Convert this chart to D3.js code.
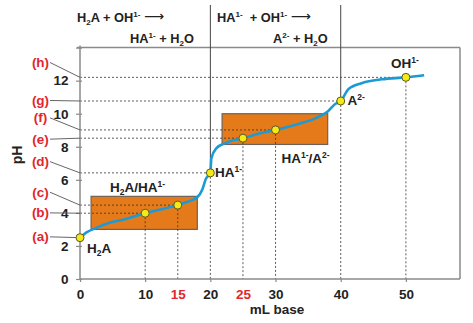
<!DOCTYPE html>
<html>
<head>
<meta charset="utf-8">
<script src="https://cdn.jsdelivr.net/npm/d3@7"></script>
<style>
  html, body { margin: 0; padding: 0; background: #fff; }
  text { font-family: "Liberation Sans", Arial, sans-serif; font-weight: bold; white-space: pre; }
</style>
</head>
<body>
<svg id="chart" width="473" height="323"></svg>
<script>
// ---------- data ----------
const curveMl = [0, 1, 2.3, 4.3, 6.9, 10, 12, 15, 16.5, 18, 18.8, 19.3, 20, 20.15, 20.9, 22.4, 25, 27.5, 30, 33.6, 36.1, 37.9, 39.2, 40, 41.2, 43.3, 46.3, 50, 52.8];
const curvePH = [2.5, 2.82, 3.06, 3.37, 3.62, 3.98, 4.17, 4.47, 4.67, 4.95, 5.45, 6.05, 6.42, 7.3, 7.9, 8.24, 8.52, 8.8, 9.02, 9.4, 9.72, 10.1, 10.6, 10.77, 11.5, 11.86, 12.08, 12.2, 12.33];

const pointMl = [0, 10, 15, 20, 25, 30, 40, 50];
const pointPH = [2.5, 3.98, 4.47, 6.42, 8.52, 9.02, 10.77, 12.2];
const pointLetters = ["(a)", "(b)", "(c)", "(d)", "(e)", "(f)", "(g)", "(h)"];
const letterLabelPH = [2.55, 4.0, 5.25, 7.1, 8.46, 9.75, 10.8, 13.1];

const xTickLabels = [0, 10, 15, 20, 25, 30, 40, 50];
const xTickRed = [15, 25];
const xTickMarks = [0, 10, 20, 30, 40, 50];
const yTickValues = [0, 2, 4, 6, 8, 10, 12, 14];
const yTickLabels = [0, 2, 4, 6, 8, 10, 12];

const bufferBoxMl = [[1.7, 18], [21.8, 38]];
const bufferBoxPH = [[3.0, 5.0], [8.14, 10.0]];

const equivalenceMl = [20, 40];
const equivalencePH = [6.42, 10.77];

// ---------- scales ----------
const svg = d3.select("#chart");
const x = d3.scaleLinear().domain([0, 58.3]).range([80, 460]);
const y = d3.scaleLinear().domain([0, 14]).range([279, 47.6]);

const ink = "#222";
const red = "#e3262b";
const gridCol = "#333";

function rich(g, px, py, parts, opts = {}) {
  const t = g.append("text").attr("x", px).attr("y", py)
    .attr("font-size", opts.size || 12).attr("fill", opts.fill || ink)
    .attr("text-anchor", opts.anchor || "start");
  const small = opts.small || 8;
  let shift = 0;
  parts.forEach(p => {
    const s = p[0], k = p[1];
    const target = k === "sup" ? -5 : k === "sub" ? 3 : k === "arrow" ? -0.5 : 0;
    const ts = t.append("tspan").attr("dy", target - shift).text(s);
    if (k === "sup" || k === "sub") ts.attr("font-size", small);
    if (k === "arrow") ts.attr("font-weight", "normal").attr("font-size", 14)
      .attr("font-family", "DejaVu Sans, sans-serif");
    shift = target;
  });
  return t;
}

// ---------- buffer boxes ----------
svg.selectAll("rect.buf").data(bufferBoxMl).enter().append("rect")
  .attr("class", "buf")
  .attr("x", d => x(d[0]))
  .attr("width", d => x(d[1]) - x(d[0]))
  .attr("y", (d, i) => y(bufferBoxPH[i][1]))
  .attr("height", (d, i) => y(bufferBoxPH[i][0]) - y(bufferBoxPH[i][1]))
  .attr("fill", "#e47a1a").attr("stroke", "#6e6258").attr("stroke-width", 1.2);

// ---------- frame ----------
svg.append("line").attr("x1", x(0) - 3).attr("x2", x(58.3)).attr("y1", y(14)).attr("y2", y(14))
  .attr("stroke", "#8a8a8a").attr("stroke-width", 1.5);
svg.append("line").attr("x1", x(58.3)).attr("x2", x(58.3)).attr("y1", y(14)).attr("y2", y(0))
  .attr("stroke", "#8a8a8a").attr("stroke-width", 1.5);

// ---------- dashed guide lines ----------
pointMl.forEach((m, i) => {
  if (i === 0) return;
  svg.append("line").attr("x1", x(0)).attr("x2", x(m)).attr("y1", y(pointPH[i])).attr("y2", y(pointPH[i]))
    .attr("stroke", gridCol).attr("stroke-width", 0.8).attr("stroke-dasharray", "2,2");
  svg.append("line").attr("x1", x(m)).attr("x2", x(m)).attr("y1", y(pointPH[i])).attr("y2", y(0))
    .attr("stroke", gridCol).attr("stroke-width", 0.8).attr("stroke-dasharray", "2,2");
});

// solid separators above equivalence points
equivalenceMl.forEach((m, i) => {
  svg.append("line").attr("x1", x(m)).attr("x2", x(m)).attr("y1", 5).attr("y2", y(equivalencePH[i]))
    .attr("stroke", "#444").attr("stroke-width", 1);
});

// ---------- axes ----------
const axisCol = "#8a8a8a";
svg.append("line").attr("x1", x(0)).attr("x2", x(0)).attr("y1", y(14) - 2).attr("y2", y(0))
  .attr("stroke", axisCol).attr("stroke-width", 1.5);
svg.append("line").attr("x1", x(0)).attr("x2", x(58.3)).attr("y1", y(0)).attr("y2", y(0))
  .attr("stroke", axisCol).attr("stroke-width", 1.5);

const yAxis = d3.axisLeft(y).tickValues(yTickValues).tickSize(4).tickFormat(d => yTickLabels.includes(d) ? d : "");
const yg = svg.append("g").attr("transform", `translate(${x(0) + 2},0)`).call(yAxis);
yg.select(".domain").remove();
yg.selectAll(".tick line").attr("stroke", axisCol).attr("stroke-width", 1.2).attr("x2", -6);
yg.selectAll(".tick text").attr("font-size", 13.5).attr("fill", ink).attr("x", -13.5)
  .attr("font-family", "Liberation Sans, Arial, sans-serif").attr("font-weight", "bold");

const xAxisTicks = d3.axisBottom(x).tickValues(xTickMarks).tickSize(3).tickFormat("");
const xg = svg.append("g").attr("transform", `translate(0,${y(0)})`).call(xAxisTicks);
xg.select(".domain").remove();
xg.selectAll(".tick line").attr("stroke", axisCol).attr("stroke-width", 1.2);

const xAxisLabels = d3.axisBottom(x).tickValues(xTickLabels).tickSize(0).tickPadding(10.5);
const xl = svg.append("g").attr("transform", `translate(0,${y(0)})`).call(xAxisLabels);
xl.select(".domain").remove();
xl.selectAll(".tick text").attr("font-size", 13.5)
  .attr("font-family", "Liberation Sans, Arial, sans-serif").attr("font-weight", "bold")
  .attr("fill", d => xTickRed.includes(d) ? red : ink);

svg.append("text").attr("x", 277).attr("y", 314).attr("text-anchor", "middle")
  .attr("font-size", 13.5).attr("fill", ink).text("mL base");
svg.append("text").attr("transform", "translate(22,155) rotate(-90)").attr("text-anchor", "middle")
  .attr("font-size", 14).attr("fill", ink).text("pH");

// ---------- letter labels with leaders ----------
pointLetters.forEach((L, i) => {
  const ly = y(letterLabelPH[i]);
  svg.append("line").attr("x1", 50).attr("x2", x(0)).attr("y1", ly).attr("y2", y(pointPH[i]))
    .attr("stroke", "#555").attr("stroke-width", 0.9);
  svg.append("text").attr("x", 40.5).attr("y", ly + 4.6).attr("text-anchor", "middle")
    .attr("font-size", 13.5).attr("fill", red).text(L);
});

// ---------- titration curve ----------
const line = d3.line().x(d => x(d[0])).y(d => y(d[1])).curve(d3.curveMonotoneX);
svg.append("path").datum(curveMl.map((m, i) => [m, curvePH[i]]))
  .attr("d", line).attr("fill", "none").attr("stroke", "#1b9ad6").attr("stroke-width", 2.6);

// ---------- points ----------
svg.selectAll("circle.pt").data(pointMl).enter().append("circle")
  .attr("class", "pt")
  .attr("cx", d => x(d)).attr("cy", (d, i) => y(pointPH[i])).attr("r", 4)
  .attr("fill", "#f5ea14").attr("stroke", "#5a5a2a").attr("stroke-width", 1);

// ---------- species annotations ----------
const ann = { size: 13.5, small: 8.5 };
rich(svg, 87, 252.7, [["H"], ["2", "sub"], ["A"]], ann);
rich(svg, 110, 191.5, [["H"], ["2", "sub"], ["A/HA"], ["1-", "sup"]], ann);
rich(svg, 215, 177, [["HA"], ["1-", "sup"]], ann);
rich(svg, 281.5, 162.5, [["HA"], ["1-", "sup"], ["/A"], ["2-", "sup"]], ann);
rich(svg, 347.5, 105, [["A"], ["2-", "sup"]], ann);
rich(svg, 391, 68.3, [["OH"], ["1-", "sup"]], ann);

// ---------- reaction headers ----------
const hdr = { size: 12.8, small: 8 };
rich(svg, 77, 21.7, [["H"], ["2", "sub"], ["A + OH"], ["1-", "sup"], [" "], ["\u27F6", "arrow"]], hdr);
rich(svg, 130, 42.7, [["HA"], ["1-", "sup"], [" + H"], ["2", "sub"], ["O"]], hdr);
rich(svg, 217, 21.7, [["HA"], ["1-", "sup"], ["  + OH"], ["1-", "sup"], [" "], ["\u27F6", "arrow"]], hdr);
rich(svg, 273, 42.7, [["A"], ["2-", "sup"], [" + H"], ["2", "sub"], ["O"]], hdr);
</script>
</body>
</html>
